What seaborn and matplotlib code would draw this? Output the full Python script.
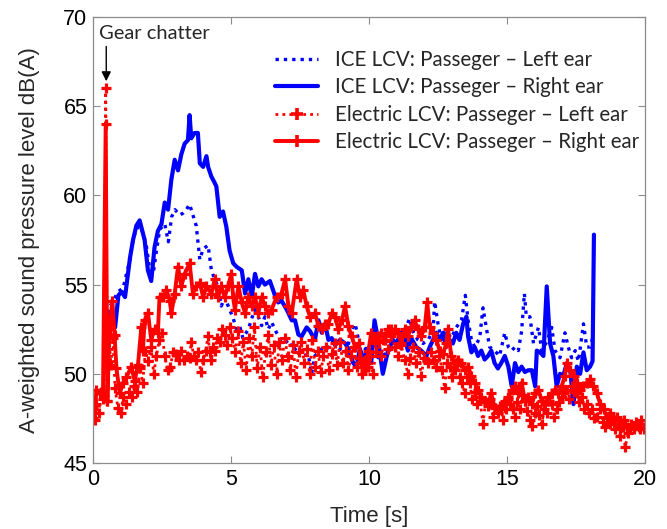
import numpy as np
import pandas as pd
import matplotlib
matplotlib.use("Agg")
import matplotlib.pyplot as plt
import seaborn as sns
from matplotlib.lines import Line2D
from matplotlib.legend_handler import HandlerLine2D

# ---------------- data ----------------
ice_right_t = [
    0.42, 0.54, 0.68, 0.8, 0.92, 1.04, 1.16, 1.34, 1.45, 1.57,
    1.69, 1.87, 1.99, 2.11, 2.23, 2.35, 2.48, 2.6, 2.72, 2.84,
    2.96, 3.08, 3.2, 3.32, 3.44, 3.5, 3.56, 3.68, 3.8, 3.87,
    3.99, 4.11, 4.17, 4.29, 4.41, 4.47, 4.59, 4.71, 4.83, 4.95,
    5.08, 5.2, 5.39, 5.51, 5.63, 5.75, 5.87, 5.99, 6.11, 6.23,
    6.41, 6.59, 6.71, 6.83, 7.02, 7.2, 7.32, 7.44, 7.56, 7.74,
    7.86, 8.04, 8.17, 8.29, 8.41, 8.53, 8.65, 8.77, 8.95, 9.14,
    9.25, 9.43, 9.55, 9.67, 9.8, 9.92, 10.08, 10.2, 10.33, 10.5,
    10.69, 10.87, 10.99, 11.17, 11.29, 11.41, 11.53, 11.71, 11.89, 12.08,
    12.2, 12.32, 12.44, 12.56, 12.68, 12.8, 12.92, 13.04, 13.16, 13.28,
    13.41, 13.53, 13.59, 13.71, 13.83, 13.95, 14.07, 14.19, 14.31, 14.43,
    14.55, 14.67, 14.79, 14.92, 15.05, 15.17, 15.29, 15.41, 15.53, 15.65,
    15.77, 15.9, 16.02, 16.08, 16.2, 16.32, 16.44, 16.56, 16.68, 16.8,
    16.92, 17.04, 17.17, 17.29, 17.41, 17.53, 17.65, 17.77, 17.89, 18.01,
    18.1, 18.15,
]
ice_right_db = [
    52.3, 53.5, 53.3, 52.6, 54.4, 54.6, 54.3, 56.5, 57.5, 58.3,
    58.6, 57.5, 55.8, 55.2, 57.1, 58.0, 58.4, 59.6, 59.2, 60.9,
    62.0, 61.4, 62.3, 62.9, 63.1, 64.5, 63.2, 63.5, 63.5, 61.8,
    61.6, 62.2, 61.6, 61.05, 60.7, 60.5, 58.8, 59.1, 58.25, 56.9,
    56.2, 56.0, 55.8, 54.5, 55.3, 54.3, 55.6, 54.9, 55.3, 55.0,
    55.2, 54.4, 54.0, 54.1, 53.6, 53.0, 53.0, 52.2, 52.1, 52.6,
    52.4, 51.9, 53.0, 52.3, 52.8, 51.9, 52.0, 51.6, 51.9, 51.7,
    51.4, 50.6, 50.4, 51.4, 50.6, 51.4, 50.6, 53.0, 51.9, 50.0,
    51.3, 51.9, 51.7, 52.3, 52.0, 51.3, 52.0, 51.5, 51.3, 51.0,
    51.5, 51.9, 52.3, 51.9, 52.3, 51.5, 51.9, 51.7, 52.3, 51.9,
    52.8, 53.2, 52.1, 51.2, 51.5, 51.0, 51.3, 50.8, 51.0, 51.3,
    50.6, 50.3, 50.6, 51.0, 50.4, 49.3, 50.6, 50.1, 50.4, 50.1,
    50.2, 50.2, 49.3, 51.3, 51.2, 51.0, 54.9, 51.7, 51.0, 49.3,
    50.0, 49.9, 50.6, 50.2, 48.3, 50.4, 50.0, 51.2, 50.2, 50.4,
    50.7, 57.8,
]

ice_left_t = [
    0.43, 0.54, 0.74, 0.9, 1.09, 1.34, 1.45, 1.57, 1.69, 1.81,
    1.94, 2.06, 2.18, 2.3, 2.42, 2.6, 2.73, 2.85, 2.97, 3.14,
    3.26, 3.38, 3.5, 3.62, 3.74, 3.87, 3.99, 4.17, 4.29, 4.41,
    4.53, 4.65, 4.77, 4.95, 5.08, 5.2, 5.31, 5.43, 5.63, 5.75,
    5.87, 5.99, 6.11, 6.23, 6.35, 6.47, 6.65, 6.77, 6.95, 7.08,
    7.26, 7.44, 7.62, 7.8, 7.92, 8.04, 8.23, 8.35, 8.53, 8.65,
    8.83, 9.0, 9.2, 9.37, 9.5, 9.62, 9.74, 9.92, 10.14, 10.33,
    10.57, 10.75, 10.93, 11.11, 11.29, 11.47, 11.59, 11.77, 11.96, 12.14,
    12.32, 12.38, 12.5, 12.62, 12.8, 12.98, 13.16, 13.35, 13.49, 13.59,
    13.71, 13.83, 14.01, 14.13, 14.25, 14.37, 14.55, 14.73, 14.92, 15.05,
    15.17, 15.29, 15.41, 15.53, 15.63, 15.7, 15.83, 15.96, 16.14, 16.26,
    16.44, 16.62, 16.74, 16.92, 17.1, 17.22, 17.34, 17.47, 17.59, 17.77,
    17.89, 18.01, 18.1,
]
ice_left_db = [
    53.5, 53.6, 54.1, 54.6, 54.8, 56.4, 57.5, 58.1, 58.3, 57.9,
    57.1, 55.8, 55.6, 56.9, 58.1, 58.4, 57.4, 58.8, 59.2, 58.9,
    59.0, 59.2, 59.5, 58.9, 58.3, 56.4, 57.0, 57.2, 55.8, 55.3,
    54.9, 53.8, 54.3, 53.6, 53.1, 52.5, 52.7, 52.0, 52.5, 53.1,
    53.6, 53.2, 52.7, 53.2, 52.5, 52.9, 52.3, 52.0, 51.7, 51.9,
    51.3, 51.5, 51.0, 51.1, 50.0, 51.0, 51.3, 51.5, 51.5, 51.3,
    51.1, 51.5, 51.3, 52.5, 52.8, 51.9, 51.1, 51.5, 51.3, 50.9,
    51.1, 51.3, 51.7, 52.0, 52.4, 53.1, 52.4, 51.9, 51.7, 51.9,
    52.4, 54.05, 52.8, 51.9, 52.4, 52.0, 52.6, 53.0, 54.4, 53.0,
    51.9, 51.5, 52.0, 53.7, 52.6, 51.5, 51.3, 51.0, 52.3, 51.5,
    51.3, 51.5, 51.3, 52.4, 54.5, 53.2, 53.2, 51.7, 52.6, 51.3,
    51.8, 52.6, 51.3, 50.9, 52.3, 51.5, 50.9, 51.3, 50.7, 52.8,
    51.5, 51.5, 52.0,
]

ev_right_t = [
    0.0, 0.06, 0.12, 0.24, 0.36, 0.46, 0.52, 0.6, 0.7, 0.78,
    0.85, 0.97, 1.09, 1.21, 1.39, 1.51, 1.63, 1.75, 1.81, 1.87,
    1.99, 2.11, 2.23, 2.35, 2.41, 2.54, 2.66, 2.78, 2.84, 2.96,
    3.08, 3.2, 3.32, 3.5, 3.62, 3.74, 3.87, 3.99, 4.11, 4.29,
    4.41, 4.53, 4.65, 4.77, 4.89, 5.01, 5.08, 5.14, 5.27, 5.39,
    5.51, 5.63, 5.75, 5.87, 5.99, 6.11, 6.23, 6.35, 6.47, 6.65,
    6.83, 6.96, 7.08, 7.2, 7.38, 7.5, 7.62, 7.74, 7.86, 8.04,
    8.17, 8.29, 8.41, 8.53, 8.65, 8.77, 8.89, 9.02, 9.13, 9.25,
    9.37, 9.5, 9.62, 9.74, 9.86, 9.98, 10.08, 10.2, 10.33, 10.45,
    10.57, 10.69, 10.81, 10.93, 11.05, 11.17, 11.29, 11.41, 11.53, 11.65,
    11.77, 11.89, 12.02, 12.11, 12.2, 12.32, 12.44, 12.56, 12.68, 12.8,
    12.86, 12.98, 13.1, 13.22, 13.35, 13.47, 13.59, 13.71, 13.83, 13.95,
    14.07, 14.19, 14.31, 14.43, 14.55, 14.67, 14.79, 14.92, 15.05, 15.17,
    15.29, 15.41, 15.53, 15.65, 15.77, 15.9, 16.02, 16.14, 16.26, 16.38,
    16.5, 16.62, 16.74, 16.86, 16.98, 17.1, 17.16, 17.28, 17.41, 17.53,
    17.65, 17.77, 17.89, 18.01, 18.13, 18.26, 18.38, 18.5, 18.62, 18.74,
    18.86, 18.98, 19.1, 19.23, 19.35, 19.47, 19.59, 19.71, 19.83, 19.95,
]
ev_right_db = [
    47.5, 47.4, 49.1, 48.9, 48.6, 64.0, 48.5, 52.5, 54.1, 52.2,
    50.3, 48.9, 49.5, 49.8, 50.4, 49.6, 50.5, 52.6, 51.3, 53.0,
    53.4, 51.9, 52.5, 52.3, 54.3, 54.3, 54.7, 54.1, 53.4, 54.5,
    56.0, 54.9, 55.6, 56.2, 54.5, 54.9, 55.1, 54.3, 54.9, 54.5,
    55.3, 54.3, 54.9, 54.3, 54.9, 55.6, 54.3, 53.6, 54.9, 54.0,
    53.4, 54.3, 53.8, 54.3, 53.4, 54.3, 53.8, 53.4, 53.6, 54.3,
    54.5, 55.3, 53.8, 53.4, 55.3, 54.3, 54.7, 53.8, 53.2, 53.4,
    52.7, 52.5, 52.8, 52.8, 53.4, 53.2, 52.5, 53.0, 53.8, 52.7,
    52.1, 51.5, 51.7, 50.6, 50.2, 51.3, 52.3, 51.7, 52.1, 52.3,
    51.9, 52.5, 52.1, 52.5, 52.3, 51.7, 52.5, 52.1, 52.6, 53.0,
    52.5, 52.1, 52.6, 54.0, 52.6, 52.3, 51.9, 51.3, 51.1, 51.7,
    52.5, 51.0, 50.6, 50.8, 50.6, 50.2, 50.4, 49.9, 49.5, 49.1,
    48.7, 48.5, 48.3, 48.9, 48.1, 48.0, 48.1, 48.5, 48.7, 49.1,
    49.3, 48.9, 49.5, 48.5, 48.7, 48.3, 48.9, 49.1, 48.5, 48.3,
    48.7, 48.9, 49.1, 48.9, 49.3, 49.9, 50.6, 50.2, 49.9, 49.5,
    49.1, 49.3, 49.5, 49.7, 49.3, 48.9, 48.3, 48.0, 47.6, 47.8,
    47.2, 47.6, 47.0, 47.4, 47.0, 46.9, 47.0, 47.2, 46.9, 47.0,
]

ev_left_t = [
    0.0, 0.1, 0.2, 0.3, 0.4, 0.46, 0.52, 0.58, 0.65, 0.72,
    0.8, 0.9, 1.0, 1.1, 1.2, 1.3, 1.4, 1.5, 1.6, 1.7,
    1.8, 1.9, 2.0, 2.1, 2.2, 2.3, 2.4, 2.5, 2.6, 2.7,
    2.8, 2.9, 3.0, 3.1, 3.2, 3.3, 3.4, 3.5, 3.56, 3.65,
    3.74, 3.82, 3.9, 4.0, 4.08, 4.17, 4.23, 4.29, 4.35, 4.41,
    4.5, 4.59, 4.68, 4.77, 4.86, 4.95, 5.05, 5.15, 5.25, 5.35,
    5.45, 5.55, 5.65, 5.75, 5.85, 5.95, 6.05, 6.15, 6.25, 6.35,
    6.45, 6.55, 6.65, 6.75, 6.85, 6.95, 7.05, 7.15, 7.25, 7.35,
    7.45, 7.55, 7.65, 7.75, 7.85, 7.95, 8.05, 8.15, 8.25, 8.35,
    8.45, 8.55, 8.65, 8.75, 8.85, 8.95, 9.05, 9.15, 9.25, 9.35,
    9.45, 9.55, 9.65, 9.75, 9.85, 9.96, 10.05, 10.14, 10.25, 10.35,
    10.45, 10.57, 10.7, 10.81, 10.93, 11.05, 11.17, 11.29, 11.41, 11.5,
    11.59, 11.7, 11.8, 11.89, 12.0, 12.14, 12.25, 12.34, 12.44, 12.55,
    12.65, 12.74, 12.83, 12.92, 13.01, 13.1, 13.19, 13.28, 13.37, 13.47,
    13.56, 13.65, 13.74, 13.83, 13.92, 14.01, 14.13, 14.22, 14.31, 14.4,
    14.49, 14.58, 14.67, 14.76, 14.86, 14.95, 15.03, 15.11, 15.2, 15.29,
    15.38, 15.47, 15.56, 15.65, 15.74, 15.84, 15.92, 16.0, 16.08, 16.17,
    16.26, 16.35, 16.44, 16.53, 16.62, 16.71, 16.8, 16.89, 16.98, 17.07,
    17.16, 17.25, 17.34, 17.43, 17.53, 17.62, 17.71, 17.8, 17.89, 17.98,
    18.07, 18.16, 18.26, 18.38, 18.47, 18.56, 18.65, 18.74, 18.83, 18.92,
    19.01, 19.1, 19.19, 19.28, 19.4, 19.5, 19.59, 19.68, 19.77, 19.86,
    19.95,
]
ev_left_db = [
    48.0, 48.3, 47.8, 49.0, 48.8, 66.0, 48.5, 52.0, 50.5, 52.0,
    49.2, 48.1, 47.8, 48.7, 48.3, 49.0, 48.7, 49.3, 49.0, 50.3,
    49.5, 51.3, 50.7, 51.5, 50.0, 51.0, 51.9, 52.3, 51.0, 50.2,
    50.4, 51.2, 51.1, 50.8, 51.3, 50.75, 51.0, 50.9, 51.8, 51.0,
    50.75, 51.2, 50.1, 50.75, 51.3, 52.1, 51.2, 50.75, 51.5, 51.3,
    52.0, 51.8, 52.5, 52.2, 51.6, 52.6, 52.0, 51.2, 52.4, 50.6,
    51.8, 50.2, 52.0, 51.0, 52.6, 50.3, 51.5, 49.8, 51.2, 52.2,
    50.5, 51.6, 50.0, 51.8, 50.8, 52.0, 51.0, 50.2, 51.6, 49.8,
    51.2, 51.8, 50.6, 51.4, 50.0, 51.9, 50.4, 51.3, 50.1, 51.0,
    51.5, 50.2, 51.1, 51.7, 50.5, 51.8, 50.6, 51.3, 50.2, 51.0,
    51.5, 50.4, 50.9, 50.0, 50.8, 50.4, 51.0, 50.0, 51.2, 51.8,
    51.0, 52.1, 51.4, 52.5, 51.5, 51.0, 51.6, 50.8, 50.0, 50.9,
    51.5, 50.6, 51.2, 49.9, 50.9, 50.6, 51.2, 50.8, 50.4, 51.0,
    50.2, 49.2, 50.6, 50.4, 49.8, 50.2, 50.5, 49.8, 49.5, 48.9,
    49.8, 49.5, 48.6, 49.0, 48.3, 48.7, 47.2, 48.4, 48.2, 48.6,
    47.6, 48.1, 47.8, 48.2, 47.4, 48.0, 48.6, 48.3, 48.0, 47.6,
    48.4, 48.0, 48.8, 48.5, 47.9, 47.4, 47.1, 47.8, 48.2, 47.7,
    47.2, 48.0, 47.8, 48.5, 48.3, 47.6, 48.0, 48.4, 48.7, 49.0,
    49.1, 48.6, 49.3, 49.0, 48.9, 48.4, 48.7, 48.0, 48.3, 47.8,
    48.0, 47.5, 47.6, 48.0, 47.3, 47.0, 47.5, 47.2, 47.6, 46.9,
    47.2, 46.5, 47.0, 45.9, 46.7, 47.2, 46.9, 47.3, 47.0, 47.4,
    46.9,
]

series_labels = [
    "ICE LCV: Passeger \u2013 Left ear",
    "ICE LCV: Passeger \u2013 Right ear",
    "Electric LCV: Passeger \u2013 Left ear",
    "Electric LCV: Passeger \u2013 Right ear",
]
x_ticks = [0, 5, 10, 15, 20]
y_ticks = [45, 50, 55, 60, 65, 70]
annotation_text = "Gear chatter"
chatter_time = 0.48

# ---------------- styling ----------------
sns.set_theme(style="white")
plt.rcParams["font.family"] = ["Liberation Sans", "DejaVu Sans"]

BLUE = "#0000ff"
RED = "#ff0000"
GRAY = "#8c8c8c"

fig = plt.figure(figsize=(6.67, 5.29), dpi=100)
fig.patch.set_facecolor("white")
ax = fig.add_axes([93 / 667, 1 - 463 / 529, 552 / 667, 446 / 529])
ax.set_facecolor("white")

dotted = (0, (1.0, 1.5))

styles = [
    dict(color=BLUE, lw=2.4, ls=dotted, marker=None),
    dict(color=BLUE, lw=3.0, ls="-", marker=None),
    dict(color=RED, lw=2.0, ls=dotted, marker="+"),
    dict(color=RED, lw=2.8, ls="-", marker="+"),
]
datasets = [
    (ice_left_t, ice_left_db),
    (ice_right_t, ice_right_db),
    (ev_left_t, ev_left_db),
    (ev_right_t, ev_right_db),
]

for (tt, vv), st in zip(datasets, styles):
    df = pd.DataFrame({"t": tt, "db": vv})
    kws = dict(color=st["color"], linewidth=st["lw"], linestyle=st["ls"],
               dash_capstyle="butt", solid_joinstyle="round")
    if st["marker"]:
        kws.update(marker="+", markersize=7, markeredgewidth=2.3,
                   markeredgecolor=st["color"])
    sns.lineplot(data=df, x="t", y="db", ax=ax, estimator=None, sort=False,
                 legend=False, **kws)

ax.set_xlim(0, 20)
ax.set_ylim(45, 70)
ax.set_xticks(x_ticks)
ax.set_yticks(y_ticks)
ax.tick_params(axis="both", which="both", direction="in", length=5,
               width=0.8, color=GRAY, labelsize=15.5, pad=4,
               top=True, right=True, bottom=True, left=True,
               labelcolor="black")
for sp in ax.spines.values():
    sp.set_visible(True)
    sp.set_color(GRAY)
    sp.set_linewidth(0.9)

ax.set_xlabel("Time [s]", fontsize=16, labelpad=12)
ax.set_ylabel("A-weighted sound pressure level dB(A)", fontsize=16, labelpad=17)

# annotation
ax.text(0.22, 69.1, annotation_text, fontsize=14.5, family=["Lato", "DejaVu Sans"],
        va="center", ha="left")
ax.annotate("", xy=(chatter_time, 66.4), xytext=(chatter_time, 68.35),
            arrowprops=dict(arrowstyle="-|>", color="black", lw=1.0,
                            mutation_scale=14, shrinkA=0, shrinkB=0))


class LeftMarkerHandler(HandlerLine2D):
    """Legend line with its marker placed near the left end."""

    def create_artists(self, legend, orig_handle, xdescent, ydescent,
                       width, height, fontsize, trans):
        artists = super().create_artists(legend, orig_handle, xdescent,
                                         ydescent, width, height, fontsize,
                                         trans)
        line = artists[0]
        xd = line.get_xdata()
        yd = line.get_ydata()
        if len(artists) > 1:
            artists[1].set_xdata([xd[0] + 4.0])
            artists[1].set_ydata([yd[0]])
        return artists


handles = []
for st in styles:
    h = Line2D([0], [0], color=st["color"], lw=st["lw"], ls=st["ls"],
               dash_capstyle="butt")
    if st["marker"]:
        h.set_marker("+")
        h.set_markersize(8)
        h.set_markeredgewidth(2.6)
    handles.append(h)

leg = ax.legend(handles, series_labels, loc="upper left",
                bbox_to_anchor=(275 / 667, 1 - 50 / 529),
                bbox_transform=fig.transFigure, frameon=False,
                prop={"family": ["Lato", "DejaVu Sans"], "size": 14.8},
                handlelength=2.1, handletextpad=0.8, labelspacing=0.36,
                borderpad=0, borderaxespad=0, numpoints=1,
                handler_map={Line2D: LeftMarkerHandler(numpoints=1)})

fig.savefig("out.png", dpi=100, facecolor="white")
